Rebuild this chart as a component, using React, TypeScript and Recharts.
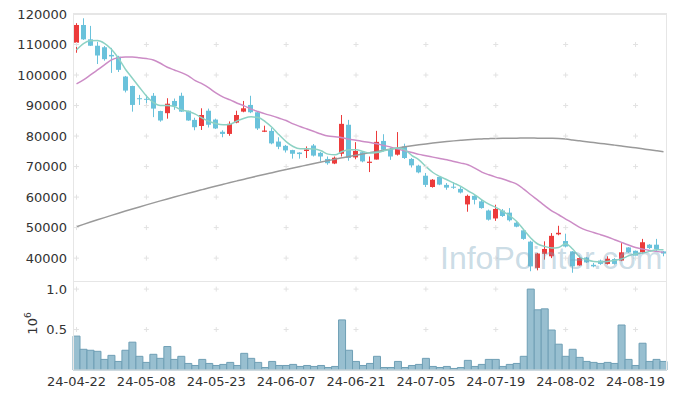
import { ComposedChart, BarChart, Bar, Line, XAxis, YAxis, ReferenceDot } from "recharts";

const dates = [
  "24-04-22", "24-04-23", "24-04-24", "24-04-25", "24-04-26", "24-04-29", "24-04-30",
  "24-05-02", "24-05-03", "24-05-07", "24-05-08", "24-05-09", "24-05-10", "24-05-13",
  "24-05-14", "24-05-16", "24-05-17", "24-05-20", "24-05-21", "24-05-22", "24-05-23",
  "24-05-24", "24-05-27", "24-05-28", "24-05-29", "24-05-30", "24-05-31", "24-06-03",
  "24-06-04", "24-06-05", "24-06-07", "24-06-10", "24-06-11", "24-06-12", "24-06-13",
  "24-06-14", "24-06-17", "24-06-18", "24-06-19", "24-06-20", "24-06-21", "24-06-24",
  "24-06-25", "24-06-26", "24-06-27", "24-06-28", "24-07-01", "24-07-02", "24-07-03",
  "24-07-04", "24-07-05", "24-07-08", "24-07-09", "24-07-10", "24-07-11", "24-07-12",
  "24-07-15", "24-07-16", "24-07-17", "24-07-18", "24-07-19", "24-07-22", "24-07-23",
  "24-07-24", "24-07-25", "24-07-26", "24-07-29", "24-07-30", "24-07-31", "24-08-01",
  "24-08-02", "24-08-05", "24-08-06", "24-08-07", "24-08-08", "24-08-09", "24-08-12",
  "24-08-13", "24-08-14", "24-08-16", "24-08-19", "24-08-20", "24-08-21", "24-08-22",
  "24-08-23",
];

const opens = [
  110600, 116400, 111700, 109600, 109100, 106600, 106000, 99500, 96400, 92400,
  92200, 93200, 88200, 87500, 91500, 93200, 88300, 85300, 83300, 88300,
  85400, 81400, 80700, 84400, 88000, 90200, 87800, 81400, 81700, 78200,
  76800, 75400, 74600, 75100, 76900, 74500, 72500, 71000, 74200, 83700,
  73000, 74700, 71200, 72300, 78400, 75700, 73900, 76600, 72500, 70300,
  67000, 63300, 66600, 64000, 63400, 62700, 57600, 60400, 58600, 55600,
  53000, 55600, 54900, 51600, 49100, 45400, 36800, 41400, 40600, 47800,
  45600, 42200, 37600, 40200, 37800, 39200, 38100, 39700, 39200, 43500,
  42400, 41900, 44400, 44400, 42200,
];
const highs = [
  117000, 118600, 116100, 110900, 109500, 108900, 106300, 99700, 96500, 93500,
  93500, 94100, 88300, 92400, 92300, 94200, 88300, 86000, 89100, 89000,
  85700, 81900, 84800, 88300, 91500, 93200, 88000, 83400, 82600, 79600,
  77100, 75500, 74700, 76600, 77400, 74800, 73300, 73300, 86900, 85300,
  78000, 75000, 73300, 81700, 80600, 76200, 81300, 77500, 72800, 70600,
  67900, 65900, 66800, 64600, 64900, 63300, 60800, 60600, 59100, 55900,
  57500, 56100, 56400, 51900, 49400, 45700, 41700, 45500, 48200, 50600,
  48000, 42300, 40800, 40400, 38400, 39500, 40600, 40000, 44900, 43600,
  42500, 46300, 44600, 46300, 42300,
];
const lows = [
  107300, 111500, 109500, 103600, 104700, 100700, 101000, 94300, 88000, 90200,
  90200, 86200, 84700, 85700, 88600, 87900, 85000, 81900, 82000, 82800,
  82300, 79600, 80100, 84200, 87800, 87500, 82000, 81300, 77300, 75700,
  74600, 72600, 72600, 72800, 73300, 71700, 70600, 70800, 73300, 71900,
  72400, 71400, 68200, 72300, 74900, 72200, 73600, 72500, 69700, 67800,
  63300, 63100, 63900, 62400, 62700, 61200, 55200, 57600, 56200, 52300,
  52200, 53500, 52000, 50100, 46000, 35700, 36000, 39500, 40000, 47500,
  43500, 35200, 37400, 38400, 37000, 37800, 37900, 37900, 39000, 41700,
  40500, 41600, 43000, 42200, 40600,
];
const closes = [
  116400, 111700, 109600, 106400, 105200, 106100, 101700, 94900, 90200, 92100,
  91900, 89000, 85100, 90600, 89800, 88000, 85100, 82900, 86900, 83700,
  82500, 80700, 84000, 86900, 89100, 87800, 82500, 81800, 77600, 76500,
  75300, 74200, 74100, 75600, 73600, 73300, 71100, 72900, 84000, 72800,
  75100, 71700, 71600, 78100, 75500, 73300, 75800, 72800, 70400, 68100,
  64000, 65700, 64100, 63100, 63100, 61500, 60400, 59100, 56400, 52600,
  56100, 53800, 52400, 50300, 46300, 37300, 41500, 43000, 47300, 48300,
  43800, 37300, 40000, 38600, 37300, 38100, 39800, 38100, 41900, 41900,
  40800, 45200, 43300, 43000, 41500,
];
const volumes = [
  419000, 256000, 244000, 231000, 131000, 181000, 106000, 244000, 344000, 169000,
  94000, 194000, 144000, 290000, 131000, 169000, 81000, 56000, 131000, 81000,
  56000, 69000, 94000, 56000, 206000, 144000, 94000, 31000, 106000, 56000,
  56000, 69000, 44000, 56000, 44000, 56000, 31000, 44000, 619000, 244000,
  106000, 56000, 81000, 169000, 31000, 31000, 106000, 31000, 56000, 69000,
  144000, 44000, 31000, 44000, 19000, 31000, 119000, 44000, 69000, 131000,
  131000, 44000, 69000, 81000, 169000, 1000000, 744000, 756000, 494000, 319000,
  169000, 256000, 156000, 106000, 94000, 81000, 94000, 81000, 556000, 131000,
  56000, 331000, 106000, 131000, 106000,
];
const ma5 = [
  108200, 110300, 111200, 111300, 110400, 108450, 105500, 101900, 98950, 96000,
  93160, 91000, 90000, 90000, 89660, 88580, 88020, 87170, 85860, 84750,
  84000, 83670, 83900, 84980, 85860, 86290, 86060, 84750, 82790, 80400,
  78200, 76570, 75820, 75800, 75720, 75160, 74080, 73850, 74940, 75490,
  75490, 74940, 74410, 74600, 75160, 75720, 76050, 75490, 73620, 72210,
  70030, 68060, 66760, 65670, 64590, 63480, 62070, 60760, 59120, 57700,
  56600, 55290, 53880, 52020, 49300, 46600, 44620, 43840, 43310, 43510,
  44720, 42990, 40370, 39480, 38930, 38830, 38930, 39260, 39700, 40790,
  41360, 41680, 42210, 42760, 42760,
];
const ma20 = [
  97090, 98400, 100030, 101670, 103310, 104940, 105700, 105930, 105930, 105700,
  105380, 104940, 103860, 102550, 101670, 100800, 99710, 98170, 97090, 95680,
  94050, 92740, 91850, 90770, 89890, 88810, 88020, 87270, 86610, 85860,
  85080, 84000, 83110, 82300, 81480, 80650, 80000, 79750, 79480, 78990,
  78660, 78200, 77870, 77450, 76900, 76370, 75720, 75160, 74600, 74000,
  73570, 73100, 72640, 72210, 71660, 71130, 70580, 69500, 68190, 67300,
  66550, 65900, 65120, 64260, 62620, 60760, 59000, 57200, 55520, 54210,
  52800, 51490, 50050, 49080, 48420, 47670, 46900, 46030, 45150, 44290,
  43510, 42990, 42530, 42210, 41880,
];
const ma120 = [
  50300, 51060, 51810, 52550, 53280, 54000, 54710, 55410, 56100, 56780,
  57450, 58110, 58760, 59400, 60030, 60650, 61260, 61860, 62450, 63040,
  63620, 64190, 64760, 65320, 65870, 66420, 66960, 67490, 68010, 68530,
  69040, 69540, 70030, 70510, 71000, 71480, 71950, 72410, 72860, 73300,
  73730, 74150, 74560, 74960, 75350, 75730, 76100, 76460, 76800, 77120,
  77420, 77700, 77960, 78200, 78420, 78610, 78780, 78930, 79050, 79150,
  79220, 79270, 79300, 79320, 79330, 79330, 79320, 79300, 79260, 79180,
  79000, 78720, 78430, 78130, 77860, 77580, 77310, 77030, 76740, 76440,
  76130, 75820, 75500, 75180, 74860,
];

const priceTicks = [40000, 50000, 60000, 70000, 80000, 90000, 100000, 110000, 120000];
const volumeTicks = [500000, 1000000];

const rows = dates.map((date, i) => ({
  date,
  open: opens[i],
  high: highs[i],
  low: lows[i],
  close: closes[i],
  volume: volumes[i],
  ma5: ma5[i],
  ma20: ma20[i],
  ma120: ma120[i],
}));

// grid markers sit on every 10th trading day
const gridDates = dates.filter((_, i) => i % 10 === 0);

const tickStyle = { fill: "#333", fontSize: 13, fontFamily: "'DejaVu Sans', sans-serif" };

const Candle = (props: any) => {
  const { x, y, width, height, payload } = props;
  const { open, high, low, close } = payload;
  const top = Math.min(y, y + height);
  const h = Math.abs(height);
  const k = high > low ? h / (high - low) : 0;
  const cx = Math.round(x + width / 2) - 0.5;
  const yo = top + (high - open) * k;
  const yc = top + (high - close) * k;
  const color = close >= open ? "#ec3b3b" : "#6ac2db";
  return (
    <g>
      <line x1={cx} x2={cx} y1={top} y2={top + h} stroke={color} strokeWidth={1} />
      <rect x={cx - 2.5} y={Math.min(yo, yc)} width={5} height={Math.max(Math.abs(yo - yc), 1)} fill={color} />
    </g>
  );
};

const Cross = (props: any) => {
  const { cx, cy } = props;
  return (
    <path
      d={`M${cx - 2.5},${cy}H${cx + 2.5}M${cx},${cy - 2.5}V${cy + 2.5}`}
      stroke="#e2e2e2"
      strokeWidth={1}
      fill="none"
    />
  );
};

const VolUnit = (props: any) => {
  const { viewBox } = props;
  const cx = viewBox.x + 37;
  const cy = viewBox.y + viewBox.height / 2 - 2;
  return (
    <text
      x={cx}
      y={cy}
      transform={`rotate(-90 ${cx} ${cy})`}
      textAnchor="middle"
      fill="#333"
      fontSize={13}
      fontFamily="'DejaVu Sans', sans-serif"
    >
      10<tspan dy={-6} fontSize={9}>6</tspan>
    </text>
  );
};

export default function App() {
  return (
    <div
      style={{
        position: "absolute",
        left: 0,
        top: 0,
        width: 677,
        height: 399,
        background: "#fff",
        fontFamily: "'DejaVu Sans', sans-serif",
      }}
    >
      {/* 가격 차트 */}
      <div style={{ position: "absolute", left: 0, top: 0 }}>
        <ComposedChart width={677} height={281} data={rows} margin={{ top: 14, right: 10, bottom: 0, left: 0 }}>
          <XAxis dataKey="date" hide />
          <YAxis
            domain={[32500, 120000]}
            ticks={priceTicks}
            allowDataOverflow
            width={73}
            axisLine={false}
            tickLine={false}
            tickSize={0}
            tickMargin={6}
            tick={tickStyle}
          />
          {gridDates.map((d) =>
            priceTicks.slice(0, -1).map((t) => (
              <ReferenceDot key={`${d}-${t}`} x={d} y={t} r={3} shape={Cross} />
            ))
          )}
          <Bar dataKey={(d: any) => [d.low, d.high]} shape={(p: any) => <Candle {...p} />} isAnimationActive={false} />
          <Line type="monotone" dataKey="ma120" stroke="#9a9a9a" strokeWidth={1.5} dot={false} isAnimationActive={false} />
          <Line type="monotone" dataKey="ma20" stroke="#cc8cc6" strokeWidth={1.5} dot={false} isAnimationActive={false} />
          <Line type="monotone" dataKey="ma5" stroke="#8dd2c4" strokeWidth={1.5} dot={false} isAnimationActive={false} />
        </ComposedChart>
      </div>

      {/* 거래량 차트 */}
      <div style={{ position: "absolute", left: 0, top: 281 }}>
        <BarChart width={677} height={118} data={rows} margin={{ top: 0, right: 10, bottom: 0, left: 0 }} barCategoryGap={0}>
          <XAxis
            dataKey="date"
            interval={9}
            height={29}
            axisLine={{ stroke: "#e6e6e6" }}
            tickLine={false}
            tickSize={0}
            tickMargin={7}
            tick={tickStyle}
          />
          <YAxis
            domain={[0, 1100000]}
            ticks={volumeTicks}
            width={73}
            axisLine={false}
            tickLine={false}
            tickSize={0}
            tickMargin={6}
            tick={tickStyle}
            tickFormatter={(v: number) => (v / 1000000).toFixed(1)}
            label={(p: any) => <VolUnit {...p} />}
          />
          {gridDates.map((d) =>
            volumeTicks.map((t) => <ReferenceDot key={`${d}-${t}`} x={d} y={t} r={3} shape={Cross} />)
          )}
          <Bar dataKey="volume" fill="#98bfd0" stroke="#6f9fb5" strokeWidth={1} isAnimationActive={false} />
        </BarChart>
      </div>

      {/* 테두리 + 워터마크 */}
      <svg width={677} height={399} style={{ position: "absolute", left: 0, top: 0, pointerEvents: "none" }}>
        <line x1={73} x2={667} y1={14} y2={14} stroke="#e6e6e6" strokeWidth={2} />
        <line x1={73.5} x2={73.5} y1={13} y2={370} stroke="#e6e6e6" strokeWidth={1} />
        <line x1={666.5} x2={666.5} y1={13} y2={370} stroke="#e6e6e6" strokeWidth={1} />
        <line x1={73} x2={667} y1={281.5} y2={281.5} stroke="#e6e6e6" strokeWidth={1} />
        <text
          x={440}
          y={269}
          fontSize={32}
          fontFamily="'Liberation Sans', Arial, sans-serif"
          fill="rgb(120,165,190)"
          fillOpacity={0.4}
        >
          InfoPointer.com
        </text>
      </svg>
    </div>
  );
}
